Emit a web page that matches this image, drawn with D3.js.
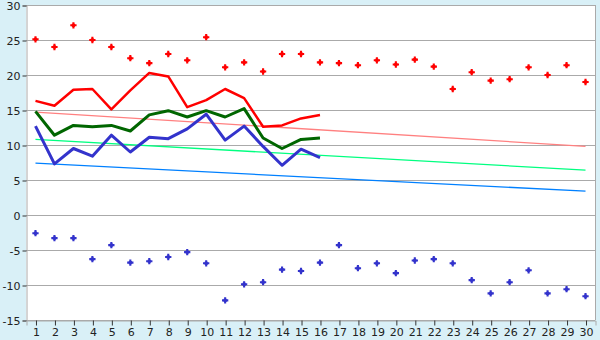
<!DOCTYPE html>
<html>
<head>
<meta charset="utf-8">
<script src="https://cdn.jsdelivr.net/npm/d3@7"></script>
<style>
  body { margin: 0; background: #d9f0f7; }
  svg { display: block; }
  text { font-family: "DejaVu Sans", Verdana, sans-serif; font-size: 11px; fill: #222; }
</style>
</head>
<body>
<svg width="600" height="340"></svg>
<script>
// days of the month
var days = d3.range(1, 31);
var yTicks = [-15, -10, -5, 0, 5, 10, 15, 20, 25, 30];

// record highs / lows per day (diamonds)
var recordMax = [25.1, 24.0, 27.1, 25.0, 24.0, 22.4, 21.7, 23.0, 22.1, 25.4,
                 21.1, 21.8, 20.5, 23.0, 23.0, 21.8, 21.7, 21.4, 22.1, 21.5,
                 22.2, 21.2, 18.0, 20.4, 19.2, 19.4, 21.1, 20.0, 21.4, 19.0];
var recordMin = [-2.6, -3.3, -3.3, -6.3, -4.3, -6.8, -6.6, -6.0, -5.3, -6.9,
                 -12.2, -9.9, -9.6, -7.8, -8.0, -6.8, -4.3, -7.6, -6.9, -8.3,
                 -6.5, -6.3, -6.9, -9.3, -11.2, -9.6, -7.9, -11.2, -10.6, -11.6];

// this month so far (days 1-16)
var maxTemp = [16.3, 15.6, 17.9, 18.0, 15.1, 17.8, 20.3, 19.8, 15.4, 16.4, 18.0, 16.7, 12.6, 12.8, 13.8, 14.3];
var avgTemp = [14.8, 11.4, 12.8, 12.6, 12.8, 12.0, 14.3, 14.9, 14.0, 14.9, 14.0, 15.2, 11.0, 9.5, 10.8, 11.0];
var minTemp = [12.7, 7.3, 9.5, 8.4, 11.4, 9.0, 11.1, 10.9, 12.3, 14.4, 10.7, 12.7, 9.8, 7.1, 9.4, 8.2];

// long-term normals, straight lines from day 1 to day 30
var normalMax = [14.7, 9.8];
var normalAvg = [10.8, 6.4];
var normalMin = [7.4, 3.4];

var svg = d3.select("svg");
var plotL = 26, plotR = 595, plotT = 5, plotB = 320;

svg.append("rect")
    .attr("x", plotL).attr("y", plotT)
    .attr("width", plotR - plotL).attr("height", plotB - plotT)
    .attr("fill", "#fff");

var x = d3.scaleLinear().domain([0.5, 30.5]).range([plotL, plotR]);
var y = d3.scaleLinear().domain([-15, 30]).range([plotB, plotT]);

// grid
svg.append("g")
    .selectAll("line")
    .data(yTicks)
    .enter().append("line")
    .attr("x1", plotL).attr("x2", plotR)
    .attr("y1", function (d) { return y(d) + 0.5; })
    .attr("y2", function (d) { return y(d) + 0.5; })
    .attr("stroke", "#aaa");

svg.append("line")
    .attr("x1", plotR + 0.5).attr("x2", plotR + 0.5)
    .attr("y1", plotT).attr("y2", plotB)
    .attr("stroke", "#aaa");

// axes
var yAxis = svg.append("g")
    .attr("transform", "translate(" + (plotL + 0.5) + ",0.5)")
    .call(d3.axisLeft(y).tickValues(yTicks).tickSize(4).tickPadding(2)
        .tickFormat(function (d) { return String(d); }));
var xAxis = svg.append("g")
    .attr("transform", "translate(0.5," + (plotB + 0.5) + ")")
    .call(d3.axisBottom(x).tickValues(days).tickSize(5).tickPadding(3));

[xAxis, yAxis].forEach(function (a) {
    a.select(".domain").attr("stroke", "#aaa");
    a.selectAll(".tick line").attr("stroke", "#333");
    a.selectAll("text").attr("fill", "#222")
        .style("font-family", "'DejaVu Sans', Verdana, sans-serif").style("font-size", "11px");
});

// normals
function trend(vals, color) {
    svg.append("line")
        .attr("x1", x(1)).attr("x2", x(30))
        .attr("y1", y(vals[0])).attr("y2", y(vals[1]))
        .attr("stroke", color)
        .attr("stroke-width", 1.3);
}
trend(normalMax, "#ff8080");
trend(normalAvg, "#00ff80");
trend(normalMin, "#0080ff");

// daily series
var line = d3.line()
    .x(function (d, i) { return x(i + 1); })
    .y(function (d) { return y(d); });

function series(vals, color, w) {
    svg.append("path")
        .datum(vals)
        .attr("d", line)
        .attr("fill", "none")
        .attr("stroke", color)
        .attr("stroke-width", w)
        .attr("stroke-linejoin", "round");
}
series(maxTemp, "#ff0000", 2.5);
series(avgTemp, "#006600", 3);
series(minTemp, "#3333cc", 3);

// records: small fat crosses
var cross = d3.symbol().type(d3.symbolCross).size(22);
var core = d3.symbol().type(d3.symbolSquare).size(10);
function points(vals, color) {
    var g = svg.append("g")
        .selectAll("g")
        .data(vals)
        .enter().append("g")
        .attr("transform", function (d, i) { return "translate(" + x(i + 1) + "," + y(d) + ")"; })
        .attr("fill", color);
    g.append("path").attr("d", cross);
    g.append("path").attr("d", core);
}
points(recordMax, "#ff0000");
points(recordMin, "#3333cc");
</script>
</body>
</html>
